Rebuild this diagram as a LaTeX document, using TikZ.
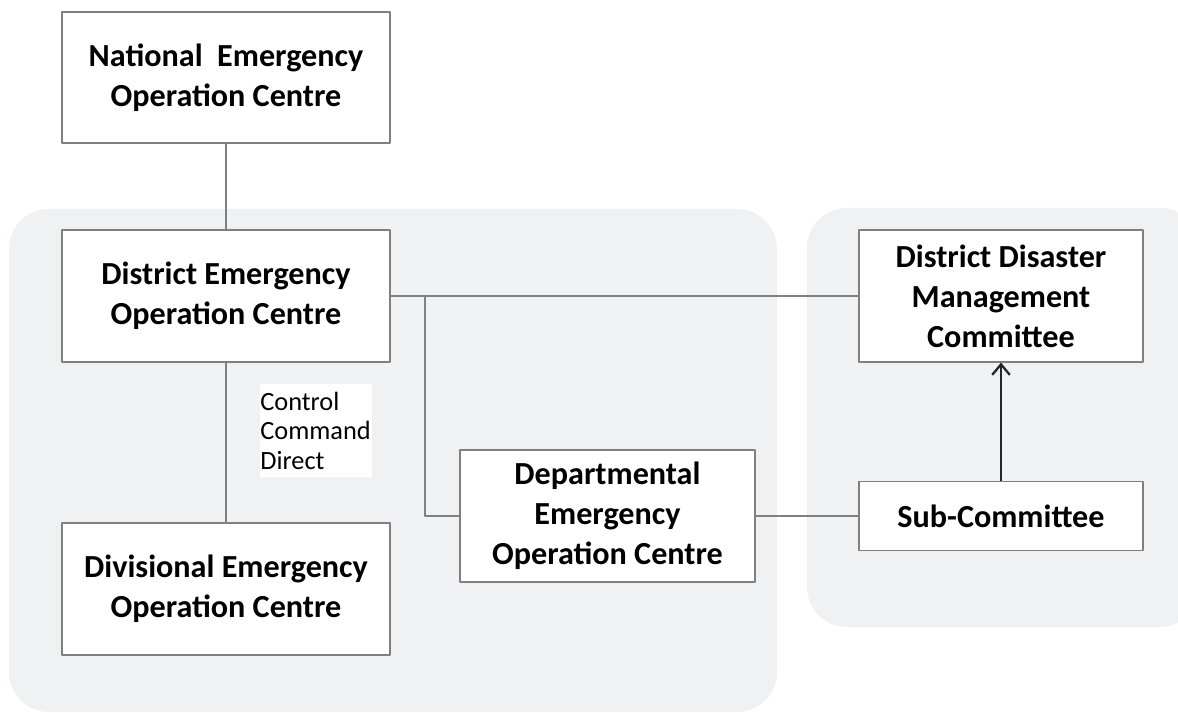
\documentclass[tikz,border=0pt]{standalone}
\usepackage{fontspec}
\setmainfont{Carlito}
\usetikzlibrary{arrows.meta}
\definecolor{panelgray}{HTML}{F0F1F3}
\definecolor{edgegray}{HTML}{808080}
\begin{document}
\begin{tikzpicture}[x=0.02cm, y=-0.02cm, line join=round,
	box/.style={draw=edgegray, line width=0.6pt, fill=white, align=center, inner sep=0pt,
		font=\fontsize{18.3}{22.7}\selectfont\bfseries},
	panel/.style={fill=panelgray, rounded corners=0.8cm},
	link/.style={draw=edgegray, line width=0.6pt}]
	\def\px{0.02cm}
	\useasboundingbox (0,0) rectangle (1178,713);
	\clip (0,0) rectangle (1178,713);
	% grey panels
	\fill[panel] (9,209) rectangle (777,712);
	\fill[panel] (807,208) rectangle (1200,627);
	% centres
	\node[box, minimum width=328*\px, minimum height=131*\px] (neoc) at (226,77.5) {National\ \ Emergency\\Operation Centre};
	\node[box, minimum width=328*\px, minimum height=132*\px] (deoc) at (226,296) {District Emergency\\Operation Centre};
	\node[box, minimum width=328*\px, minimum height=132*\px] (dvoc) at (226,589) {Divisional Emergency\\Operation Centre};
	\node[box, minimum width=295*\px, minimum height=132*\px] (dpoc) at (607.5,516) {Departmental\\Emergency\\Operation Centre};
	\node[box, minimum width=284*\px, minimum height=132*\px] (ddmc) at (1001,296) {District Disaster\\Management\\Committee};
	\node[box, minimum width=284*\px, minimum height=69*\px] (sub) at (1001,516) {Sub-Committee};
	% label
	\node[fill=white, anchor=north west, inner sep=0pt, text width=112*\px, align=left,
		minimum height=93*\px, font=\fontsize{15}{17}\selectfont] (ccd) at (260,384) {Control\\Command\\Direct};
	% links
	\coordinate (junc) at (425,296);
	\draw[link] (neoc) -- (deoc);
	\draw[link] (deoc) -- (dvoc);
	\draw[link] (deoc.east) -- (ddmc.west);
	\draw[link] (junc) |- (dpoc.west);
	\draw[link] (dpoc) -- (sub);
	\draw[-{Straight Barb[length=6pt, width=10pt]}, line width=1.3pt, black!85] (sub) -- (ddmc);
\end{tikzpicture}
\end{document}
